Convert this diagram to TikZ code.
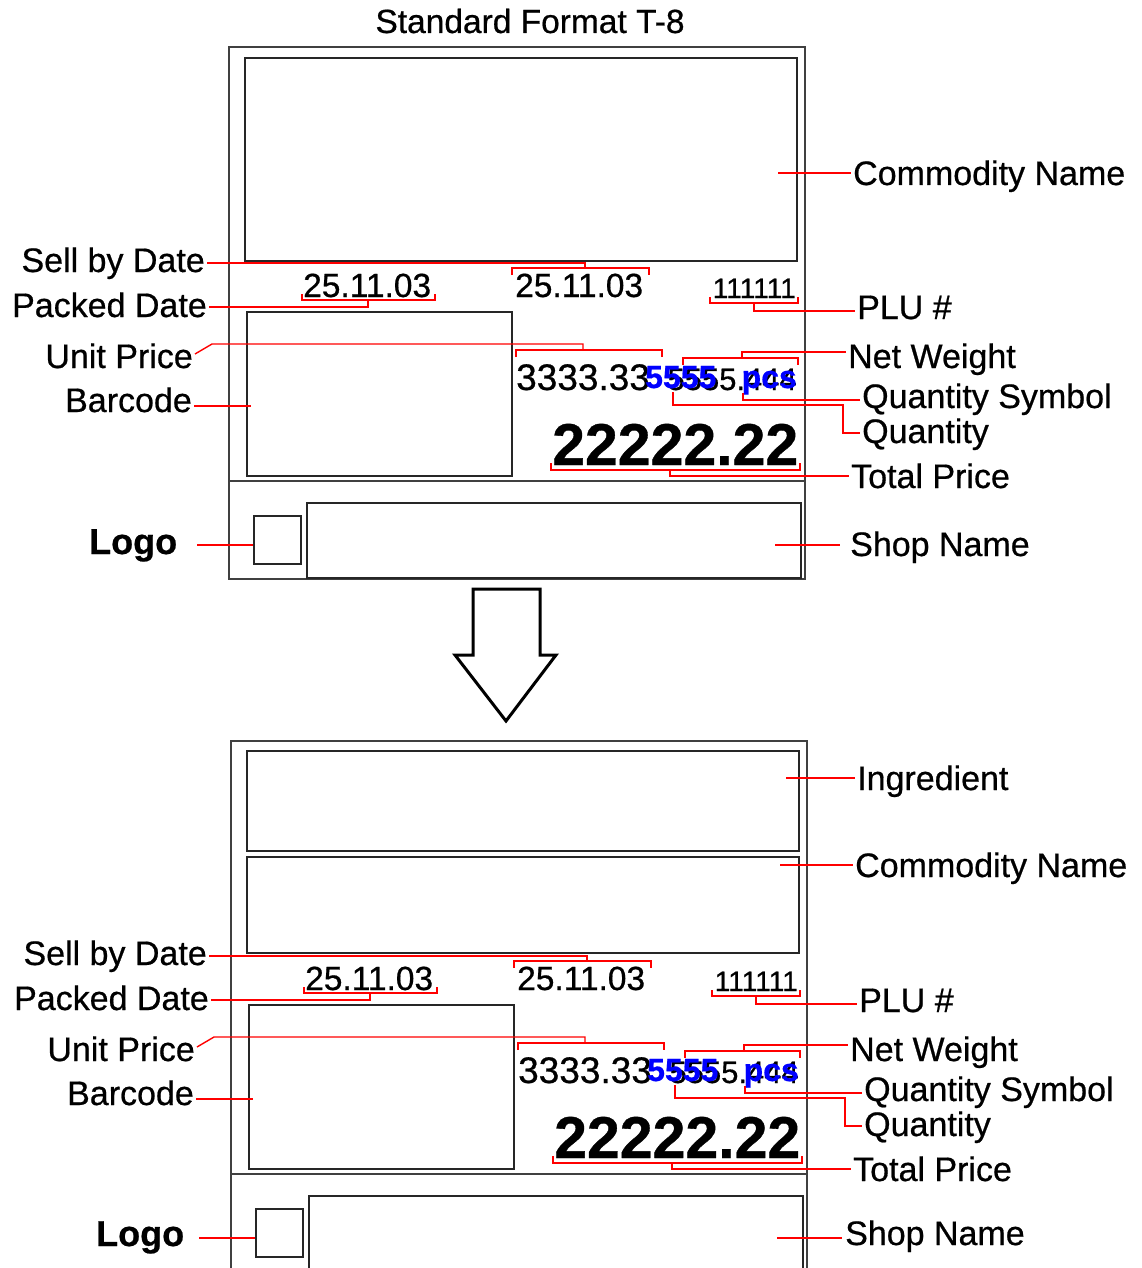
\documentclass[tikz,border=0pt]{standalone}
\usepackage{fontspec}
\setmainfont{Liberation Sans}[FakeBold=0.6]
\newcommand\myfs[1]{\fontsize{#1pt}{#1pt}\selectfont}
\tikzset{
  lbl/.style={inner xsep=2pt, inner ysep=0pt, font=\myfs{34}},
  val/.style={inner sep=0pt},
  conn/.style={red, line width=1.4pt},
  box/.style={draw=black!85, line width=1.6pt, inner sep=0pt},
  frame/.style={draw=black!75, line width=1.8pt, inner sep=0pt}
}
\newcommand\labelpart[1]{%
  \node[box, anchor=north west, minimum width=265pt, minimum height=164pt] (#1bcbox) at (246,311) {};
  \node[box, anchor=north west, minimum width=47pt, minimum height=48pt] (#1logobox) at (253,515) {};
  \node[box, anchor=north west, minimum width=494pt, minimum height=75pt] (#1shopbox) at (306,502) {};
  % left labels
  \node[lbl, anchor=base east] (#1sell) at (207,272) {Sell by Date};
  \node[lbl, anchor=base east] (#1pack) at (209,317) {Packed Date};
  \node[lbl, anchor=base east] (#1unit) at (195,368) {Unit Price};
  \node[lbl, anchor=base east] (#1bcl) at (194,412) {Barcode};
  % right labels
  \node[lbl, anchor=base west] (#1plu) at (855,319) {PLU \#};
  \node[lbl, anchor=base west] (#1nw) at (846,368) {Net Weight};
  \node[lbl, anchor=base west] (#1qs) at (860,408) {Quantity Symbol};
  \node[lbl, anchor=base west] (#1qty) at (860,443) {Quantity};
  \node[lbl, anchor=base west] (#1tp) at (849,488) {Total Price};
  % values
  \node[val, font=\myfs{33.5}, anchor=base west] (#1pd) at (303,297) {25.11.03};
  \node[val, font=\myfs{33.5}, anchor=base west] (#1sd) at (515,297) {25.11.03};
  \node[val, font=\myfs{28}, anchor=base east] (#1plun) at (796,298) {111111};
  \node[val, font=\myfs{37}, anchor=base west] (#1up) at (516,390) {3333.33};
  \node[val, font=\myfs{31}, anchor=base east] (#1nwv) at (797,390) {5555.444};
  \node[val, font=\bfseries\myfs{32}, text=blue, anchor=base west] (#1qv) at (645,388) {5555};
  \node[val, font=\bfseries\myfs{32}, text=blue, anchor=base east] (#1qsv) at (797,388) {pcs};
  \node[val, font=\bfseries\myfs{59}, anchor=base west] (#1tpv) at (552,465) {22222.22};
  % connectors
  \draw[conn] (#1sell.east |- 0,263) -- (585,263) -- (585,268);
  \draw[conn] (512,275) -- (512,268) -- (649,268) -- (649,275);
  \draw[conn] (302,294) -- (302,300) -- (435,300) -- (435,294);
  \draw[conn] (368,300) -- (368,307) -- (#1pack.east |- 0,307);
  \draw[conn] (#1unit.east |- 0,354) -- (212,344) -- (583,344) -- (583,350);
  \draw[conn] (516,357) -- (516,350) -- (662,350) -- (662,357);
  \draw[conn] (#1bcl.east |- 0,406) -- (251,406);
  \draw[conn] (710,297) -- (710,303) -- (798,303) -- (798,297);
  \draw[conn] (754,303) -- (754,311) -- (#1plu.west |- 0,311);
  \draw[conn] (683,365) -- (683,358) -- (798,358) -- (798,365);
  \draw[conn] (742,358) -- (742,352) -- (#1nw.west |- 0,352);
  \draw[conn] (743,393) -- (743,400) -- (#1qs.west |- 0,400);
  \draw[conn] (673,392) -- (673,405) -- (843,405) -- (843,433) -- (#1qty.west |- 0,433);
  \draw[conn] (551,463) -- (551,470) -- (800,470) -- (800,463);
  \draw[conn] (670,470) -- (670,476) -- (#1tp.west |- 0,476);
  \coordinate (#1logoend) at (197,545);
  \draw[conn] (#1logoend) -- (#1logobox.west |- 0,545);
  \coordinate (#1shopin) at (775,545);
  \coordinate (#1shopout) at (840,545);
  \draw[conn] (#1shopin) -- (#1shopout);
}
\begin{document}
\begin{tikzpicture}[x=1pt,y=-1pt]
\useasboundingbox (0,0) rectangle (1142,1268);
\fill[white] (0,0) rectangle (1142,1268);
\clip (0,0) rectangle (1142,1268);

% ---------- top label ----------
\node[lbl, font=\myfs{33.5}, anchor=base] (title) at (530,33) {Standard Format T-8};
\node[frame, anchor=north west, minimum width=576pt, minimum height=532pt] (tframe) at (228,46) {};
\draw[frame] (tframe.west |- 0,481) -- (tframe.east |- 0,481);
\node[box, anchor=north west, minimum width=552pt, minimum height=203pt] (tcombox) at (244,57) {};
\node[lbl, anchor=base west] (tcom) at (851,185) {Commodity Name};
\coordinate (tcomin) at (778,173);
\draw[conn] (tcomin) -- (tcom.west |- 0,173);
\labelpart{t}
\node[lbl, font=\bfseries\myfs{36}, anchor=base west] (tlogo) at (87,554) {Logo};
\node[lbl, anchor=base west] (tshop) at (848,556) {Shop Name};

% ---------- arrow ----------
\draw[line width=3pt, line join=miter, fill=white] (473,589) -- (540,589) -- (540,655) -- (556,655)
  -- (506,721) -- (455,655) -- (473,655) -- cycle;

% ---------- bottom label ----------
\node[frame, anchor=north west, minimum width=576pt, minimum height=540pt] (bframe) at (230,740) {};
\draw[frame] (bframe.west |- 0,1174) -- (bframe.east |- 0,1174);
\node[box, anchor=north west, minimum width=552pt, minimum height=100pt] (bingbox) at (246,750) {};
\node[box, anchor=north west, minimum width=552pt, minimum height=96pt] (bcombox) at (246,856) {};
\node[lbl, anchor=base west] (bing) at (855,790) {Ingredient};
\coordinate (bingin) at (786,778);
\draw[conn] (bingin) -- (bing.west |- 0,778);
\node[lbl, anchor=base west] (bcom) at (853,877) {Commodity Name};
\coordinate (bcomin) at (780,865);
\draw[conn] (bcomin) -- (bcom.west |- 0,865);
\begin{scope}[shift={(2,693)}]
\labelpart{b}
\end{scope}
\node[lbl, font=\bfseries\myfs{36}, anchor=base west] (blogo) at (94,1246) {Logo};
\node[lbl, anchor=base west] (bshop) at (843,1245) {Shop Name};
\end{tikzpicture}
\end{document}
